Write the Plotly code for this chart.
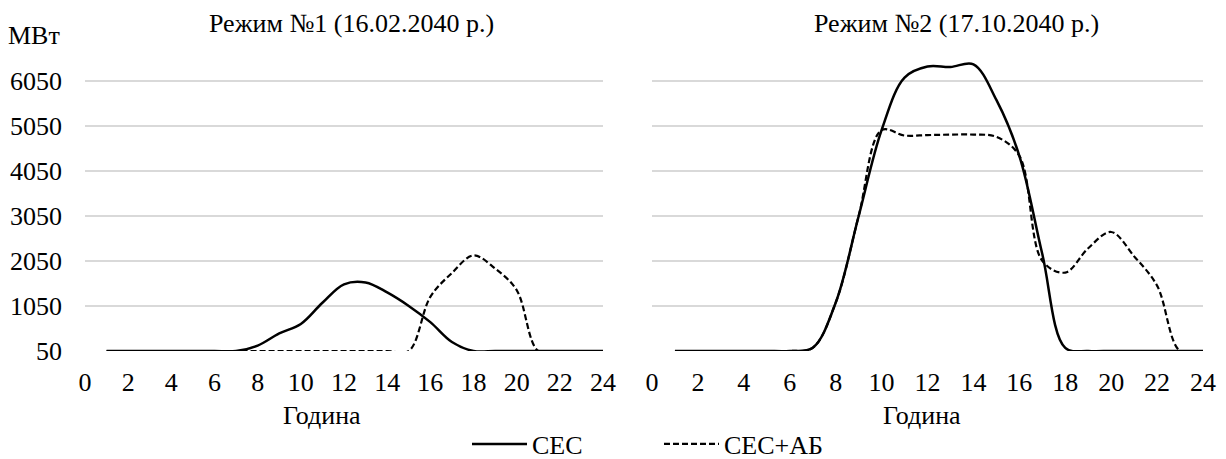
import plotly.graph_objects as go

hours = list(range(1, 25))

# Режим №1 (16.02.2040)
m1_ses = [50, 50, 50, 50, 50, 50, 50, 170, 440, 650, 1120, 1530,
          1570, 1350, 1050, 690, 250, 50, 50, 50, 50, 50, 50, 50]
m1_ses_ab = [50, 50, 50, 50, 50, 50, 50, 50, 50, 50, 50, 50,
             50, 50, 50, 1250, 1780, 2170, 1880, 1400, 50, 50, 50, 50]

# Режим №2 (17.10.2040)
m2_ses = [50, 50, 50, 50, 50, 50, 120, 1120, 3040, 4950, 6115, 6360,
          6350, 6410, 5620, 4380, 2200, 120, 50, 50, 50, 50, 50, 50]
m2_ses_ab = [50, 50, 50, 50, 50, 50, 120, 1120, 3040, 4950, 4830, 4840,
             4850, 4850, 4800, 4380, 2050, 1790, 2330, 2690, 2150, 1500, 50, 50]

y_ticks = [50, 1050, 2050, 3050, 4050, 5050, 6050]
x_ticks = list(range(0, 25, 2))

titles = ["Режим №1 (16.02.2040 р.)", "Режим №2 (17.10.2040 р.)"]
x_title = "Година"
y_title = "МВт"
names = ["СЕС", "СЕС+АБ"]

FONT = "'Liberation Serif', 'Times New Roman', serif"
FS = 26
W, H = 1226, 459

fig = go.Figure()
solid = dict(color="black", width=2.5, shape="spline", smoothing=1.0)
dashed = dict(color="black", width=2.2, dash="6px,3px", shape="spline", smoothing=1.0)

fig.add_trace(go.Scatter(x=hours, y=m1_ses, mode="lines", line=solid, name=names[0],
                         xaxis="x", yaxis="y", showlegend=True))
fig.add_trace(go.Scatter(x=hours, y=m1_ses_ab, mode="lines", line=dashed, name=names[1],
                         xaxis="x", yaxis="y", showlegend=True))
fig.add_trace(go.Scatter(x=hours, y=m2_ses, mode="lines", line=solid, name=names[0],
                         xaxis="x2", yaxis="y2", showlegend=False))
fig.add_trace(go.Scatter(x=hours, y=m2_ses_ab, mode="lines", line=dashed, name=names[1],
                         xaxis="x2", yaxis="y2", showlegend=False))

def px_x(p):
    return p / W

def px_y(p):
    return 1 - p / H

tickf = dict(family=FONT, size=FS, color="black")
ydom = [px_y(351), px_y(58)]
xax = dict(range=[0, 24], tickvals=x_ticks,
           showgrid=False, zeroline=False,
           showline=False, ticks="", ticklabelstandoff=13, automargin=False,
           tickfont=tickf)
yax = dict(range=[50, 6550], tickvals=y_ticks,
           showgrid=True, gridcolor="#d9d9d9",
           gridwidth=1.5, zeroline=False, showline=False, ticks="", automargin=False,
           tickfont=tickf)

fig.update_layout(
    width=W, height=H,
    margin=dict(l=0, r=0, t=0, b=0, autoexpand=False),
    paper_bgcolor="white", plot_bgcolor="white",
    font=dict(family=FONT, size=FS, color="black"),
    xaxis=dict(domain=[px_x(85), px_x(603)], anchor="y", **xax),
    yaxis=dict(domain=ydom, anchor="x", ticklabelstandoff=22, **yax),
    xaxis2=dict(domain=[px_x(652), px_x(1203)], anchor="y2", **xax),
    yaxis2=dict(domain=ydom, anchor="x2", showticklabels=False, **yax),
    legend=dict(orientation="h", x=px_x(467), y=px_y(444), xanchor="left", yanchor="middle",
                font=dict(family=FONT, size=FS, color="black"),
                bgcolor="rgba(0,0,0,0)", entrywidth=122, tracegroupgap=0,
                itemwidth=55),
    showlegend=True,
)

annots = [
    dict(text=titles[0], x=px_x(352), y=px_y(23)),
    dict(text=titles[1], x=px_x(956), y=px_y(23)),
    dict(text=x_title, x=px_x(322), y=px_y(415)),
    dict(text=x_title, x=px_x(922), y=px_y(415)),
]
for a in annots:
    fig.add_annotation(xref="paper", yref="paper", showarrow=False, xanchor="center",
                       yanchor="middle", font=dict(family=FONT, size=FS, color="black"), **a)
fig.add_annotation(xref="paper", yref="paper", showarrow=False, text=y_title,
                   x=px_x(62), y=px_y(35), xanchor="right", yanchor="middle",
                   font=dict(family=FONT, size=FS, color="black"))

fig.write_html("out.html", config={"displayModeBar": False},
               post_script="document.body.style.margin='0';document.body.style.overflow='hidden';")
